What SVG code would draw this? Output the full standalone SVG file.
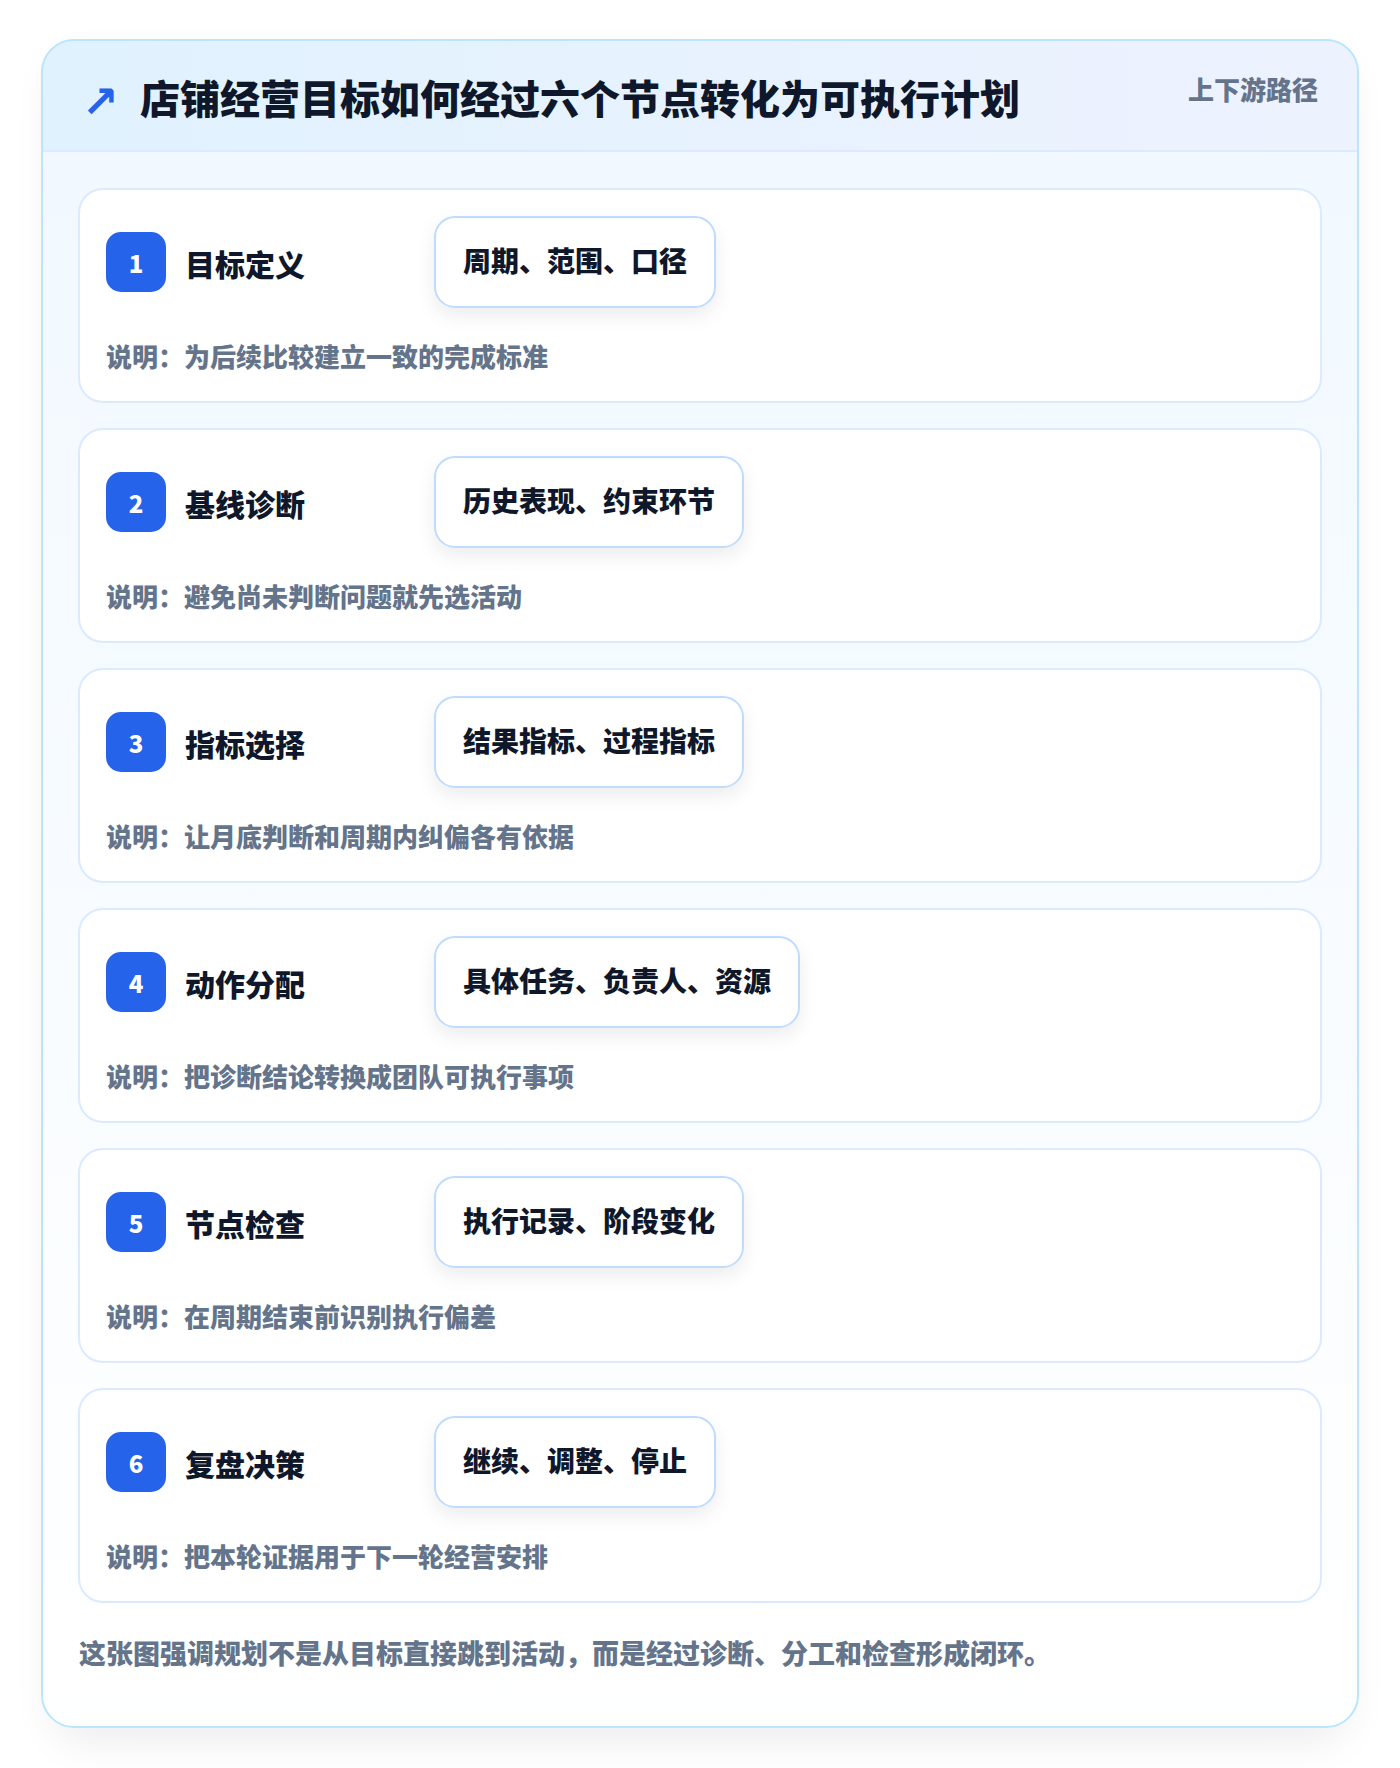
<svg xmlns="http://www.w3.org/2000/svg" width="1400" height="1768" viewBox="0 0 1400 1768">
<defs>
<linearGradient id="hdr" x1="0" y1="0" x2="1" y2="0">
<stop offset="0" stop-color="#e0f2fe"/>
<stop offset="1" stop-color="#eef2ff"/>
</linearGradient>
<linearGradient id="body" x1="0" y1="0" x2="0" y2="1">
<stop offset="0" stop-color="#f0f8ff"/>
<stop offset="1" stop-color="#ffffff"/>
</linearGradient>
<clipPath id="outerClip"><rect x="42" y="40" width="1316" height="1687" rx="32"/></clipPath>
<filter id="outerShadow" x="-10%" y="-10%" width="120%" height="120%">
<feGaussianBlur stdDeviation="22"/>
</filter>
<filter id="pillShadow" x="-20%" y="-30%" width="140%" height="180%">
<feDropShadow dx="0" dy="8" stdDeviation="9" flood-color="#0f172a" flood-opacity="0.07"/>
</filter>
<style>
text{font-family:"Noto Sans CJK SC","Noto Sans",sans-serif;font-weight:900}
.card{fill:#ffffff;stroke:#dbeafe;stroke-width:2}
.badge{fill:#2563eb}
.num{fill:#ffffff;font-size:24px;text-anchor:middle}
.ttl{fill:#0f172a;font-size:30px}
.pill{fill:#ffffff;stroke:#bfdbfe;stroke-width:2}
.ptx{fill:#0f172a;font-size:28px}
.desc{fill:#64748b;font-size:26px}
</style>
</defs>
<rect x="0" y="0" width="1400" height="1768" fill="#ffffff"/>
<rect x="52" y="62" width="1296" height="1680" rx="32" fill="#0f172a" opacity="0.07" filter="url(#outerShadow)"/>
<g id="frame">
<rect x="42" y="40" width="1316" height="1687" rx="32" fill="url(#body)"/>
<g clip-path="url(#outerClip)">
<rect x="42" y="40" width="1316" height="111" fill="url(#hdr)"/>
<rect x="42" y="150" width="1316" height="2" fill="#dbeafe"/>
</g>
<rect x="42" y="40" width="1316" height="1687" rx="32" fill="none" stroke="#bae6fd" stroke-width="2"/>
</g>
<g id="header">
<text x="82" y="117" style="font-family:'DejaVu Sans',sans-serif;font-weight:700" font-size="44" fill="#2563eb">↗</text>
<text x="140" y="114" font-size="40" fill="#0f172a">店铺经营目标如何经过六个节点转化为可执行计划</text>
<text x="1318" y="100" font-size="26" fill="#64748b" text-anchor="end">上下游路径</text>
</g>
<g id="node-1">
<rect class="card" x="79" y="189" width="1242" height="213" rx="24"/>
<rect class="badge" x="106" y="232" width="60" height="60" rx="15"/>
<text class="num" x="136" y="273">1</text>
<text class="ttl" x="185" y="276">目标定义</text>
<rect class="pill" x="435" y="217" width="280" height="90" rx="20" filter="url(#pillShadow)"/>
<text class="ptx" x="463" y="272">周期、范围、口径</text>
<text class="desc" x="106" y="367">说明：为后续比较建立一致的完成标准</text>
</g>
<g id="node-2">
<rect class="card" x="79" y="429" width="1242" height="213" rx="24"/>
<rect class="badge" x="106" y="472" width="60" height="60" rx="15"/>
<text class="num" x="136" y="513">2</text>
<text class="ttl" x="185" y="516">基线诊断</text>
<rect class="pill" x="435" y="457" width="308" height="90" rx="20" filter="url(#pillShadow)"/>
<text class="ptx" x="463" y="512">历史表现、约束环节</text>
<text class="desc" x="106" y="607">说明：避免尚未判断问题就先选活动</text>
</g>
<g id="node-3">
<rect class="card" x="79" y="669" width="1242" height="213" rx="24"/>
<rect class="badge" x="106" y="712" width="60" height="60" rx="15"/>
<text class="num" x="136" y="753">3</text>
<text class="ttl" x="185" y="756">指标选择</text>
<rect class="pill" x="435" y="697" width="308" height="90" rx="20" filter="url(#pillShadow)"/>
<text class="ptx" x="463" y="752">结果指标、过程指标</text>
<text class="desc" x="106" y="847">说明：让月底判断和周期内纠偏各有依据</text>
</g>
<g id="node-4">
<rect class="card" x="79" y="909" width="1242" height="213" rx="24"/>
<rect class="badge" x="106" y="952" width="60" height="60" rx="15"/>
<text class="num" x="136" y="993">4</text>
<text class="ttl" x="185" y="996">动作分配</text>
<rect class="pill" x="435" y="937" width="364" height="90" rx="20" filter="url(#pillShadow)"/>
<text class="ptx" x="463" y="992">具体任务、负责人、资源</text>
<text class="desc" x="106" y="1087">说明：把诊断结论转换成团队可执行事项</text>
</g>
<g id="node-5">
<rect class="card" x="79" y="1149" width="1242" height="213" rx="24"/>
<rect class="badge" x="106" y="1192" width="60" height="60" rx="15"/>
<text class="num" x="136" y="1233">5</text>
<text class="ttl" x="185" y="1236">节点检查</text>
<rect class="pill" x="435" y="1177" width="308" height="90" rx="20" filter="url(#pillShadow)"/>
<text class="ptx" x="463" y="1232">执行记录、阶段变化</text>
<text class="desc" x="106" y="1327">说明：在周期结束前识别执行偏差</text>
</g>
<g id="node-6">
<rect class="card" x="79" y="1389" width="1242" height="213" rx="24"/>
<rect class="badge" x="106" y="1432" width="60" height="60" rx="15"/>
<text class="num" x="136" y="1473">6</text>
<text class="ttl" x="185" y="1476">复盘决策</text>
<rect class="pill" x="435" y="1417" width="280" height="90" rx="20" filter="url(#pillShadow)"/>
<text class="ptx" x="463" y="1472">继续、调整、停止</text>
<text class="desc" x="106" y="1567">说明：把本轮证据用于下一轮经营安排</text>
</g>
<g id="connectors"/>
<g id="footer">
<text x="79" y="1664" font-size="27" fill="#64748b">这张图强调规划不是从目标直接跳到活动，而是经过诊断、分工和检查形成闭环。</text>
</g>
</svg>
